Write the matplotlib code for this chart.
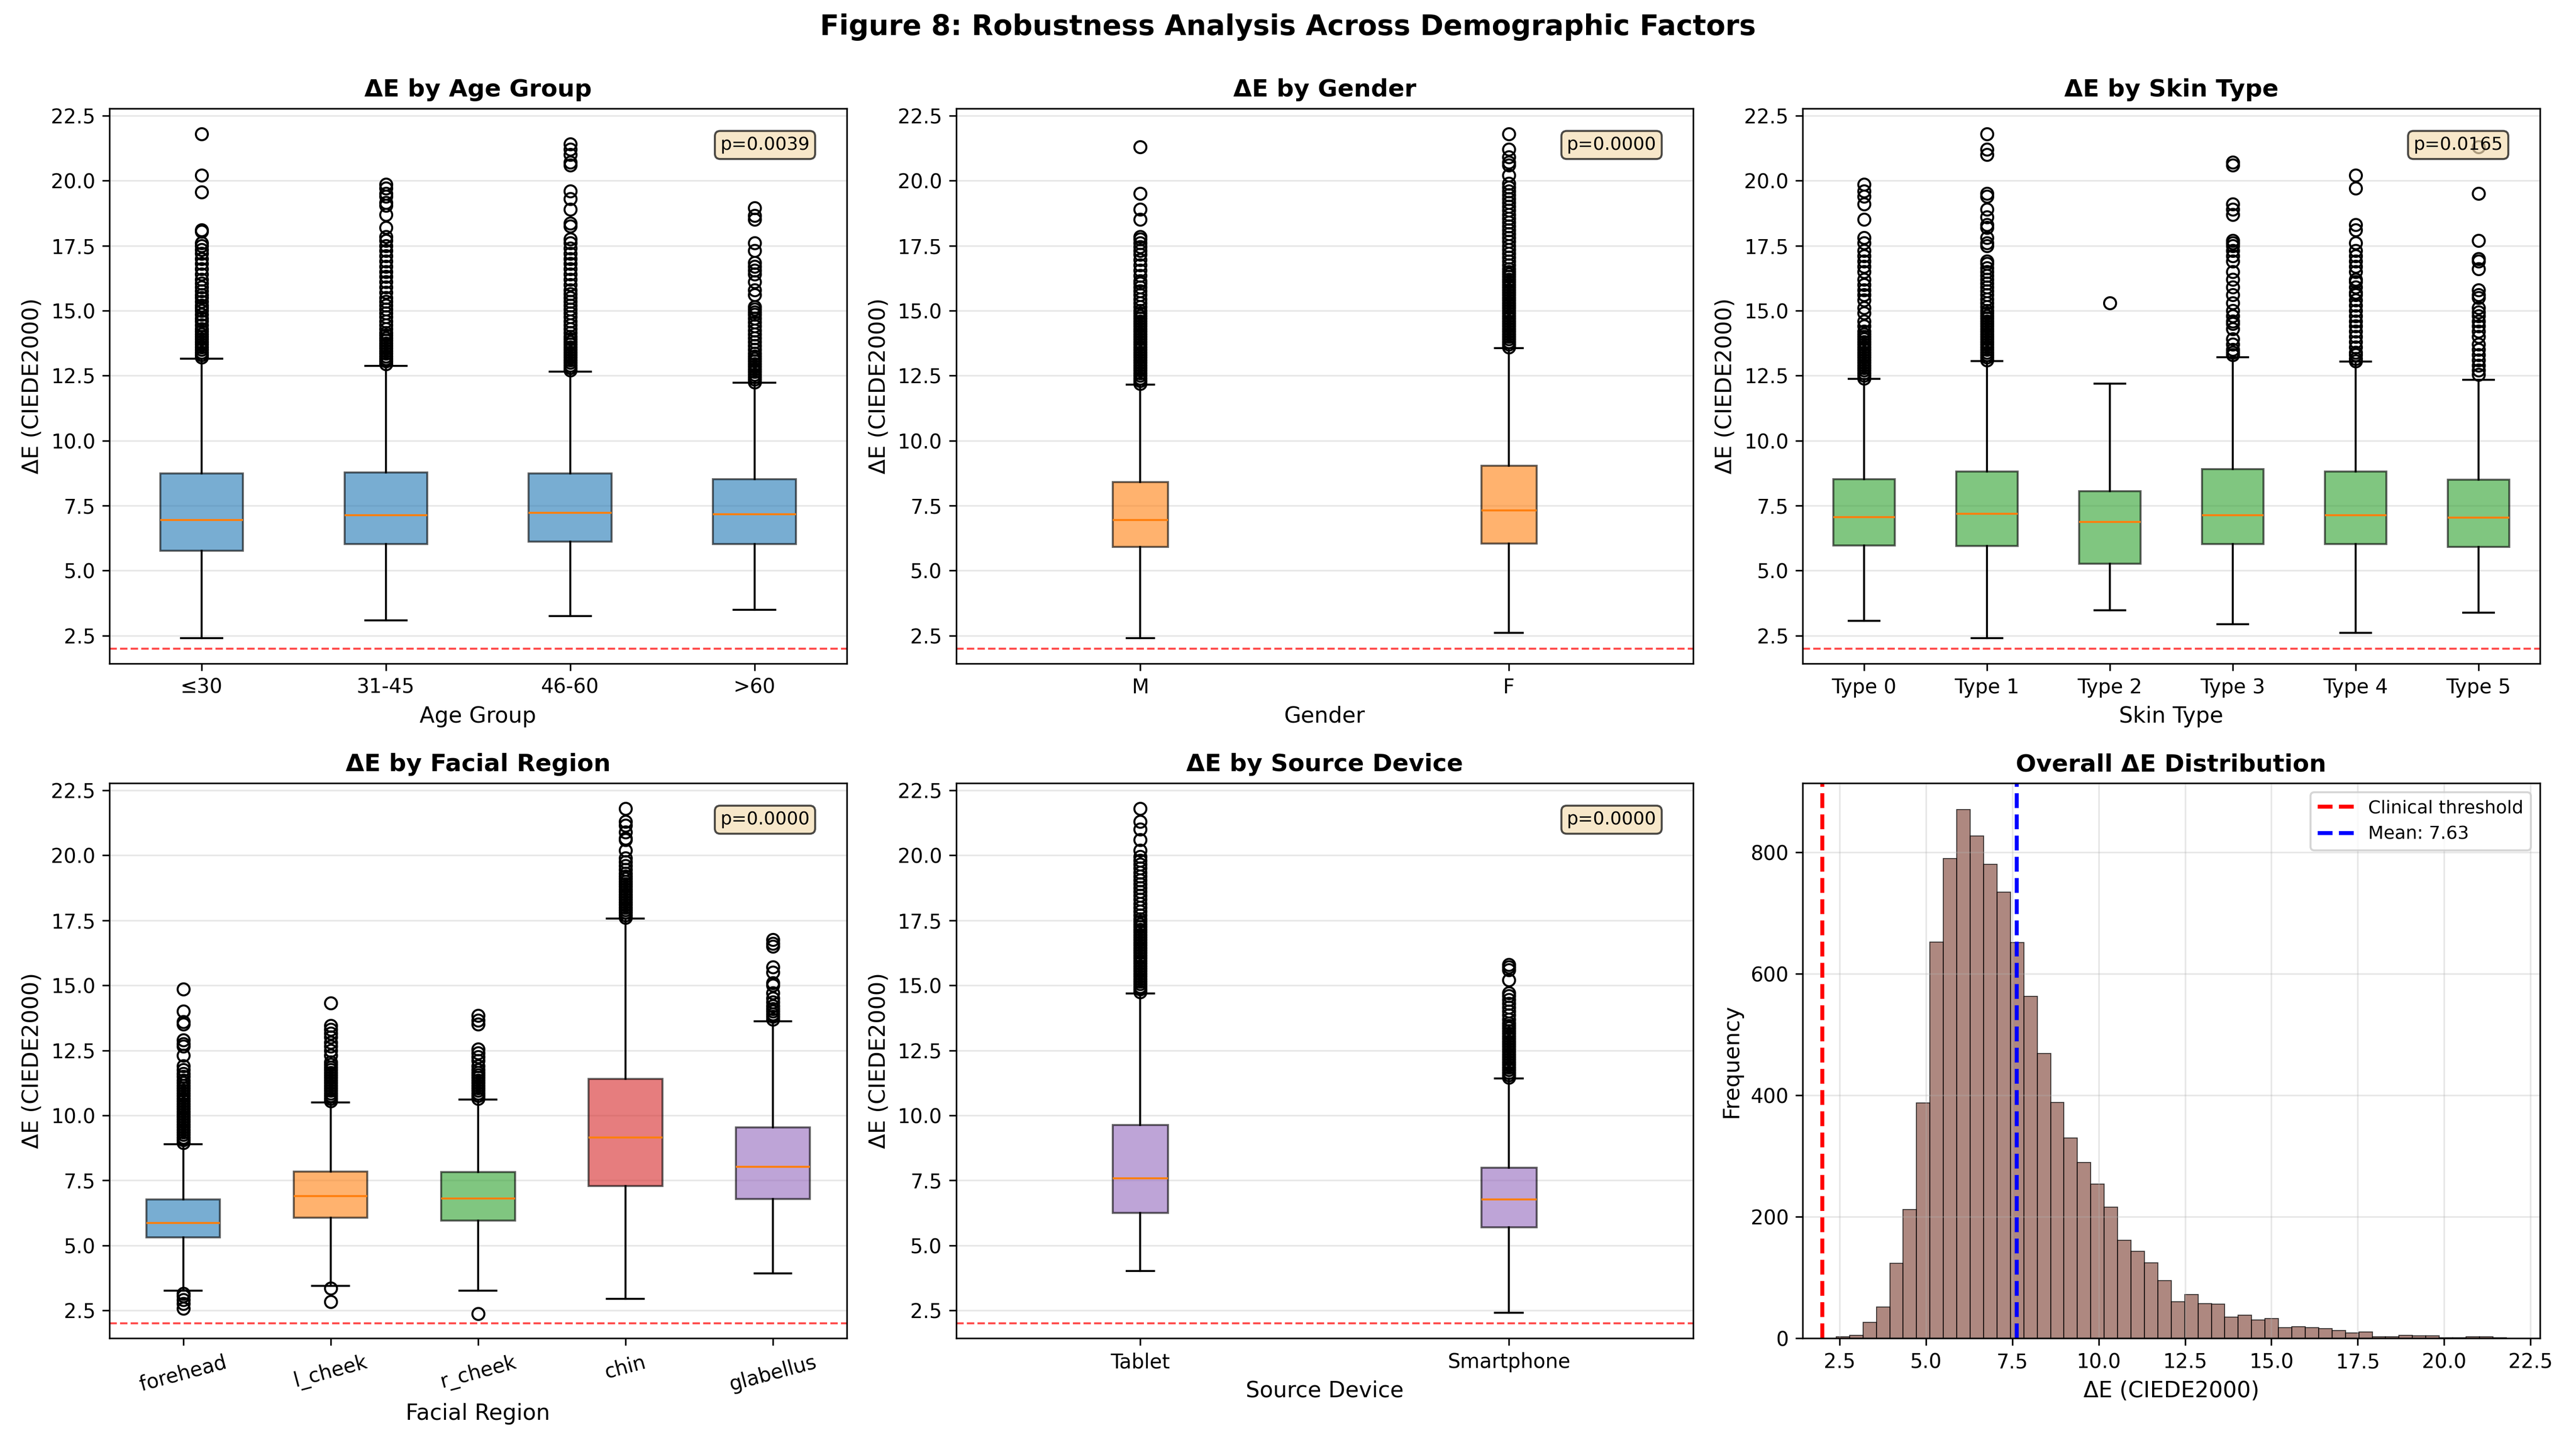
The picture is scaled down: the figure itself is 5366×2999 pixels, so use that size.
# -*- coding: utf-8 -*-
# robustness of delta E across demographic factors (figure 8)

import numpy as np
import matplotlib
matplotlib.use('Agg')
import matplotlib.pyplot as plt

# ---- box statistics ----
# age group
age_labels = ['≤30', '31-45', '46-60', '>60']
age_q1 = [5.76, 6.02, 6.11, 6.03]
age_med = [6.94, 7.14, 7.22, 7.16]
age_q3 = [8.74, 8.78, 8.74, 8.51]
age_lo = [2.40, 3.09, 3.26, 3.50]
age_hi = [13.15, 12.88, 12.66, 12.23]
age_fliers = [
    [13.2, 13.3, 13.4, 13.5, 13.6, 13.7, 13.8, 13.9, 14.0, 14.1, 14.2, 14.3, 14.45, 14.6, 14.7, 14.85,
     15.0, 15.1, 15.2, 15.35, 15.5, 15.6, 15.75, 15.9, 16.05, 16.2, 16.4, 16.6, 16.8, 17.0, 17.2,
     17.35, 17.5, 17.6, 18.05, 18.1, 19.55, 20.2, 21.8],
    [12.95, 13.05, 13.15, 13.25, 13.35, 13.45, 13.55, 13.65, 13.75, 13.85, 13.95, 14.05, 14.15, 14.3,
     14.45, 14.6, 14.75, 14.9, 15.05, 15.2, 15.35, 15.5, 15.7, 15.9, 16.1, 16.3, 16.5, 16.7, 16.9,
     17.1, 17.3, 17.5, 17.7, 17.85, 18.2, 18.7, 19.05, 19.15, 19.4, 19.5, 19.7, 19.85],
    [12.7, 12.8, 12.9, 13.0, 13.1, 13.2, 13.3, 13.4, 13.5, 13.6, 13.7, 13.8, 13.9, 14.0, 14.15, 14.3,
     14.45, 14.6, 14.75, 14.9, 15.05, 15.2, 15.35, 15.5, 15.65, 15.8, 16.0, 16.2, 16.4, 16.6, 16.8,
     17.0, 17.2, 17.4, 17.6, 17.75, 18.25, 18.35, 18.9, 19.3, 19.6, 20.6, 20.7, 21.0, 21.2, 21.4],
    [12.25, 12.35, 12.45, 12.55, 12.65, 12.75, 12.85, 12.95, 13.05, 13.15, 13.25, 13.35, 13.5, 13.65,
     13.8, 13.95, 14.1, 14.25, 14.4, 14.55, 14.7, 14.85, 14.95, 15.05, 15.15, 15.6, 15.8, 16.1, 16.4,
     16.55, 16.7, 16.85, 17.3, 17.6, 18.5, 18.65, 18.95],
]
age_p = 0.0039

# gender
gender_labels = ['M', 'F']
gender_q1 = [5.92, 6.05]
gender_med = [6.94, 7.32]
gender_q3 = [8.40, 9.03]
gender_lo = [2.40, 2.60]
gender_hi = [12.15, 13.56]
gender_fliers = [
    [12.2, 12.3, 12.4, 12.5, 12.6, 12.7, 12.8, 12.9, 13.0, 13.1, 13.2, 13.3, 13.4, 13.5, 13.6, 13.7,
     13.8, 13.9, 14.0, 14.1, 14.2, 14.3, 14.4, 14.5, 14.6, 14.7, 14.8, 14.9, 15.0, 15.15, 15.3, 15.45,
     15.6, 15.75, 15.9, 16.05, 16.15, 16.35, 16.55, 16.75, 16.95, 17.15, 17.3, 17.45, 17.6, 17.75,
     17.85, 18.5, 18.9, 19.5, 21.3],
    [13.6, 13.7, 13.8, 13.9, 14.0, 14.1, 14.2, 14.3, 14.4, 14.5, 14.6, 14.7, 14.8, 14.9, 15.0, 15.1,
     15.2, 15.3, 15.4, 15.5, 15.6, 15.7, 15.8, 15.9, 16.0, 16.1, 16.2, 16.3, 16.4, 16.5, 16.6, 16.75,
     16.9, 17.05, 17.2, 17.35, 17.5, 17.65, 17.8, 17.95, 18.1, 18.25, 18.4, 18.55, 18.7, 18.85, 19.0,
     19.15, 19.3, 19.45, 19.6, 19.75, 19.9, 20.2, 20.6, 20.7, 20.9, 21.2, 21.8],
]
gender_p = 0.0000

# skin type
skin_labels = ['Type 0', 'Type 1', 'Type 2', 'Type 3', 'Type 4', 'Type 5']
skin_q1 = [5.97, 5.95, 5.26, 6.02, 6.03, 5.91]
skin_med = [7.06, 7.19, 6.87, 7.13, 7.14, 7.03]
skin_q3 = [8.52, 8.81, 8.06, 8.90, 8.82, 8.49]
skin_lo = [3.07, 2.40, 3.48, 2.94, 2.60, 3.39]
skin_hi = [12.37, 13.05, 12.20, 13.21, 13.04, 12.34]
skin_fliers = [
    [12.4, 12.5, 12.6, 12.7, 12.8, 12.9, 13.0, 13.1, 13.2, 13.3, 13.4, 13.5, 13.6, 13.7, 13.8, 13.9,
     14.0, 14.1, 14.2, 14.4, 14.6, 14.9, 15.1, 15.4, 15.6, 15.8, 16.0, 16.2, 16.5, 16.7, 16.9, 17.1,
     17.3, 17.6, 17.8, 18.5, 19.1, 19.4, 19.6, 19.85],
    [13.1, 13.2, 13.3, 13.4, 13.5, 13.6, 13.7, 13.8, 13.9, 14.0, 14.1, 14.2, 14.3, 14.4, 14.5, 14.6,
     14.7, 14.8, 14.9, 15.0, 15.15, 15.3, 15.45, 15.6, 15.75, 15.9, 16.05, 16.2, 16.35, 16.5, 16.65,
     16.8, 16.9, 17.5, 17.6, 17.8, 18.2, 18.3, 18.6, 18.9, 19.4, 19.5, 21.0, 21.2, 21.8],
    [15.3],
    [13.3, 13.4, 13.5, 13.7, 13.9, 14.3, 14.5, 14.6, 14.8, 15.0, 15.3, 15.6, 15.9, 16.2, 16.5, 16.9,
     17.1, 17.3, 17.5, 17.6, 17.7, 18.7, 18.9, 19.1, 20.6, 20.7],
    [13.05, 13.15, 13.3, 13.4, 13.6, 13.8, 14.0, 14.2, 14.4, 14.6, 14.8, 15.0, 15.2, 15.4, 15.6, 15.7,
     15.9, 16.1, 16.2, 16.5, 16.7, 16.9, 17.1, 17.3, 17.6, 18.1, 18.3, 19.7, 20.2],
    [12.55, 12.7, 12.9, 13.1, 13.3, 13.5, 13.7, 14.0, 14.2, 14.4, 14.6, 14.8, 14.95, 15.1, 15.5, 15.6,
     15.8, 16.6, 16.9, 17.0, 17.7, 19.5, 21.3],
]
skin_p = 0.0165

# facial region
region_labels = ['forehead', 'l_cheek', 'r_cheek', 'chin', 'glabellus']
region_q1 = [5.31, 6.07, 5.95, 7.28, 6.79]
region_med = [5.86, 6.90, 6.81, 9.15, 8.02]
region_q3 = [6.76, 7.83, 7.81, 11.40, 9.54]
region_lo = [3.26, 3.45, 3.26, 2.94, 3.92]
region_hi = [8.89, 10.49, 10.61, 17.56, 13.62]
region_fliers = [
    [2.57, 2.75, 2.9, 3.05, 3.15, 8.95, 9.05, 9.15, 9.25, 9.35, 9.45, 9.55, 9.65, 9.75, 9.85, 9.95,
     10.05, 10.15, 10.25, 10.35, 10.45, 10.55, 10.65, 10.75, 10.85, 10.95, 11.05, 11.15, 11.25, 11.35,
     11.5, 11.6, 11.75, 11.9, 12.3, 12.65, 12.75, 12.9, 13.5, 13.6, 14.0, 14.85],
    [2.83, 3.35, 10.55, 10.65, 10.75, 10.85, 10.95, 11.05, 11.15, 11.25, 11.35, 11.45, 11.55, 11.65,
     11.75, 11.85, 11.95, 12.05, 12.3, 12.5, 12.65, 12.8, 13.0, 13.15, 13.3, 13.45, 14.32],
    [2.38, 10.65, 10.75, 10.85, 10.95, 11.05, 11.15, 11.25, 11.35, 11.45, 11.55, 11.65, 11.75, 11.9,
     12.1, 12.25, 12.4, 12.55, 13.5, 13.65, 13.83],
    [17.6, 17.7, 17.8, 17.9, 18.0, 18.1, 18.2, 18.3, 18.4, 18.5, 18.6, 18.7, 18.8, 18.9, 19.0, 19.1,
     19.2, 19.3, 19.45, 19.6, 19.75, 19.9, 20.2, 20.6, 20.65, 20.9, 21.15, 21.3, 21.8],
    [13.7, 13.8, 13.9, 14.0, 14.1, 14.2, 14.35, 14.5, 14.7, 15.0, 15.1, 15.5, 15.7, 16.5, 16.6, 16.75],
]
region_p = 0.0000

# source device
device_labels = ['Tablet', 'Smartphone']
device_q1 = [6.25, 5.70]
device_med = [7.58, 6.77]
device_q3 = [9.62, 7.99]
device_lo = [4.01, 2.41]
device_hi = [14.69, 11.42]
device_fliers = [
    [14.75, 14.85, 14.95, 15.05, 15.15, 15.25, 15.35, 15.45, 15.55, 15.65, 15.75, 15.85, 15.95, 16.05,
     16.15, 16.25, 16.35, 16.45, 16.55, 16.65, 16.75, 16.85, 16.95, 17.05, 17.15, 17.25, 17.35, 17.45,
     17.55, 17.7, 17.85, 18.0, 18.15, 18.3, 18.45, 18.6, 18.75, 18.9, 19.05, 19.2, 19.35, 19.5, 19.65,
     19.8, 19.95, 20.2, 20.6, 21.0, 21.3, 21.8],
    [11.45, 11.55, 11.65, 11.75, 11.85, 11.95, 12.05, 12.15, 12.25, 12.35, 12.45, 12.55, 12.65, 12.75,
     12.85, 12.95, 13.05, 13.15, 13.25, 13.35, 13.45, 13.55, 13.7, 13.85, 14.0, 14.15, 14.3, 14.45,
     14.6, 14.7, 15.2, 15.6, 15.7, 15.8],
]
device_p = 0.0000

# overall histogram (50 bins between min and max)
de_min = 2.40
de_max = 21.80
hist_counts = [2, 5, 26, 51, 123, 212, 387, 652, 790, 870,
               827, 780, 734, 651, 563, 469, 388, 330, 289, 254,
               216, 161, 143, 124, 95, 60, 72, 57, 56, 35,
               38, 30, 32, 17, 19, 17, 16, 13, 9, 10,
               2, 2, 5, 4, 4, 1, 1, 2, 2, 1]
de_mean = 7.63
threshold = 2.0

YLIM = (1.43, 22.77)


def _stats(labels, q1, med, q3, lo, hi, fliers):
    return [{'label': l, 'q1': a, 'med': m, 'q3': b, 'whislo': w0, 'whishi': w1, 'fliers': f}
            for l, a, m, b, w0, w1, f in zip(labels, q1, med, q3, lo, hi, fliers)]


def _box(ax, stats, colors, title, xlabel, p):
    bp = ax.bxp(stats, patch_artist=True)
    for patch, c in zip(bp['boxes'], colors):
        patch.set_facecolor(c)
        patch.set_alpha(0.6)
    ax.axhline(y=threshold, color='red', linestyle='--', linewidth=1, alpha=0.7)
    ax.set_title(title, fontsize=12, fontweight='bold')
    ax.set_xlabel(xlabel, fontsize=11)
    ax.set_ylabel('ΔE (CIEDE2000)', fontsize=11)
    ax.set_ylim(*YLIM)
    ax.grid(axis='y', alpha=0.3)
    ax.text(0.95, 0.95, f'p={p:.4f}', transform=ax.transAxes, fontsize=9,
            ha='right', va='top', bbox=dict(boxstyle='round', facecolor='wheat', alpha=0.7))


fig, axes = plt.subplots(nrows=2, ncols=3, figsize=(5366 / 300, 2999 / 300))

_box(axes[0, 0], _stats(age_labels, age_q1, age_med, age_q3, age_lo, age_hi, age_fliers),
     ['#1f77b4'] * 4, 'ΔE by Age Group', 'Age Group', age_p)
_box(axes[0, 1], _stats(gender_labels, gender_q1, gender_med, gender_q3, gender_lo, gender_hi, gender_fliers),
     ['#ff7f0e'] * 2, 'ΔE by Gender', 'Gender', gender_p)
_box(axes[0, 2], _stats(skin_labels, skin_q1, skin_med, skin_q3, skin_lo, skin_hi, skin_fliers),
     ['#2ca02c'] * 6, 'ΔE by Skin Type', 'Skin Type', skin_p)
_box(axes[1, 0], _stats(region_labels, region_q1, region_med, region_q3, region_lo, region_hi, region_fliers),
     ['#1f77b4', '#ff7f0e', '#2ca02c', '#d62728', '#9467bd'], 'ΔE by Facial Region', 'Facial Region', region_p)
plt.setp(axes[1, 0].get_xticklabels(), rotation=15)
_box(axes[1, 1], _stats(device_labels, device_q1, device_med, device_q3, device_lo, device_hi, device_fliers),
     ['#9467bd'] * 2, 'ΔE by Source Device', 'Source Device', device_p)

# overall distribution
ax = axes[1, 2]
edges = np.linspace(de_min, de_max, len(hist_counts) + 1)
ax.hist(edges[:-1], bins=edges, weights=hist_counts, color='#8c564b', alpha=0.7,
        edgecolor='black', linewidth=0.5)
ax.axvline(x=threshold, color='red', linestyle='--', linewidth=2, label='Clinical threshold')
ax.axvline(x=de_mean, color='blue', linestyle='--', linewidth=2, label=f'Mean: {de_mean:.2f}')
ax.set_xlim(1.43, 22.77)
ax.set_title('Overall ΔE Distribution', fontsize=12, fontweight='bold')
ax.set_xlabel('ΔE (CIEDE2000)', fontsize=11)
ax.set_ylabel('Frequency', fontsize=11)
ax.legend(fontsize=9, loc='upper right')
ax.grid(alpha=0.3)

fig.suptitle('Figure 8: Robustness Analysis Across Demographic Factors', fontsize=14,
             fontweight='bold', y=0.981, va='center')
fig.tight_layout()
# vertical placement as in the saved (tight-cropped) original
fig.subplots_adjust(top=0.9246, bottom=0.0707, hspace=0.216)
fig.savefig('out.png', dpi=300)
